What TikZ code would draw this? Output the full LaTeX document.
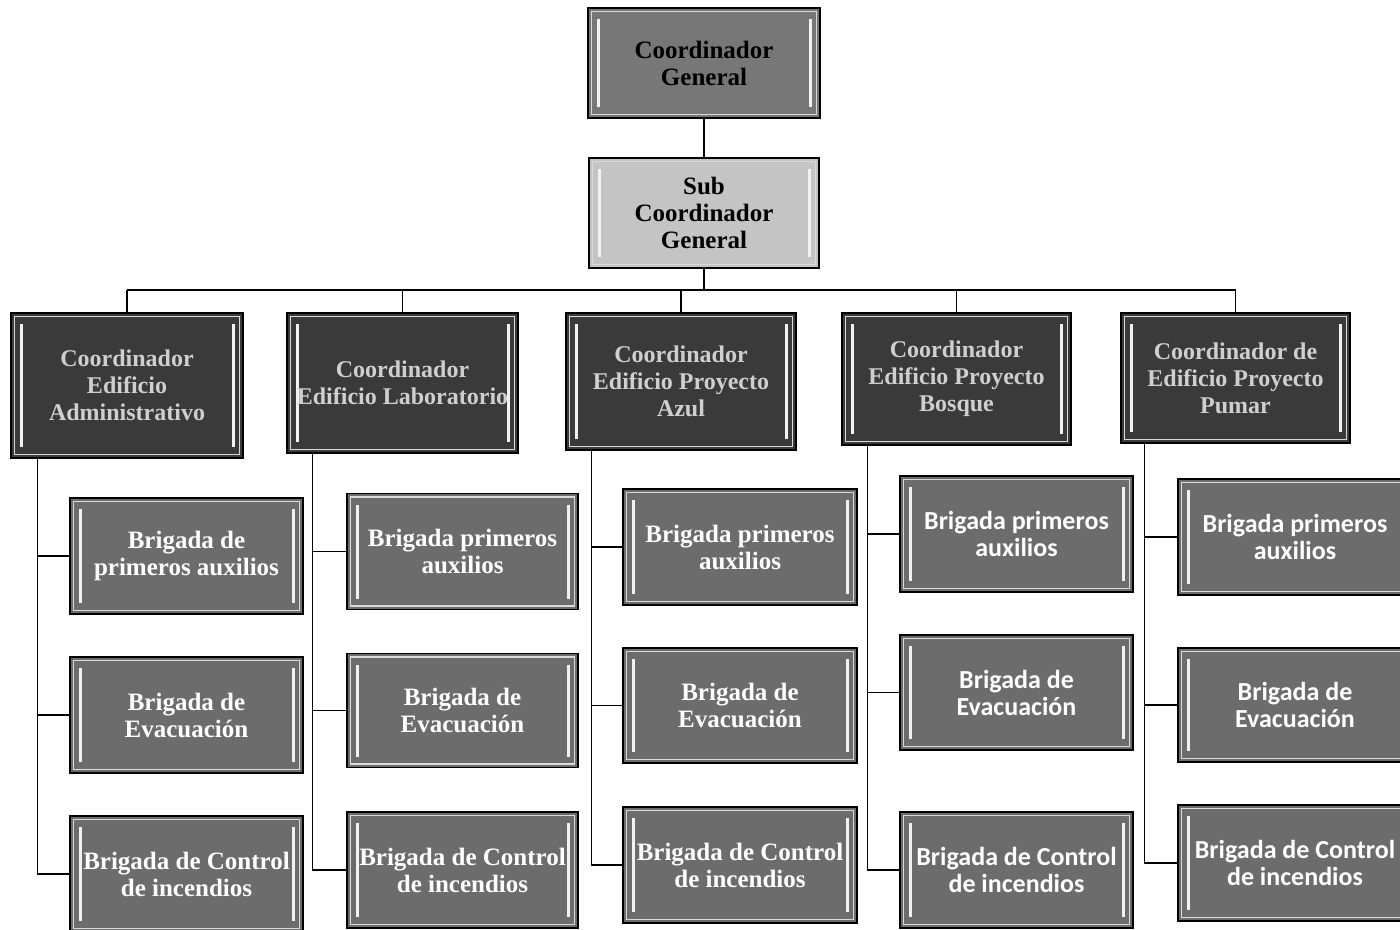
\documentclass[tikz,border=0pt]{standalone}
\usepackage{fontspec}
\setmainfont{Liberation Serif}
\newfontfamily\cfont{Carlito}
\definecolor{topfill}{HTML}{777777}
\definecolor{subfill}{HTML}{C4C4C4}
\definecolor{coordfill}{HTML}{3A3A3A}
\definecolor{coordtext}{HTML}{CFCFCF}
\definecolor{brigfill}{HTML}{6C6C6C}
\definecolor{rimcol}{HTML}{DADADA}
\definecolor{bevelcol}{HTML}{F2F2F2}
\begin{document}
\begin{tikzpicture}[x=1pt,y=-1pt,
  conn/.style={draw=black,line width=1.4pt},
  boxbase/.style={rectangle, draw=black, line width=1.3pt, inner sep=2pt, align=center,
    path picture={
      \draw[rimcol,line width=1.6pt] ([shift={(3.5pt,-3.5pt)}]path picture bounding box.north west) rectangle ([shift={(-3.5pt,3.5pt)}]path picture bounding box.south east);
      \draw[bevelcol,line width=3pt] ([shift={(10pt,-11pt)}]path picture bounding box.north west) -- ([shift={(10pt,11pt)}]path picture bounding box.south west);
      \draw[bevelcol,line width=3pt] ([shift={(-10pt,-11pt)}]path picture bounding box.north east) -- ([shift={(-10pt,11pt)}]path picture bounding box.south east);
    }},
  topbox/.style={boxbase, fill=topfill, text=black, font=\fontsize{25}{27}\selectfont\bfseries},
  subbox/.style={boxbase, fill=subfill, text=black, font=\fontsize{25}{27}\selectfont\bfseries},
  coordbox/.style={boxbase, fill=coordfill, text=coordtext, font=\fontsize{24}{27}\selectfont\bfseries},
  brigbox/.style={boxbase, fill=brigfill, text=white, font=\fontsize{25}{27}\selectfont\bfseries},
  brigsans/.style={boxbase, fill=brigfill, text=white, font=\cfont\fontsize{26}{27}\selectfont\bfseries}
]
\useasboundingbox (0,0) rectangle (1400,929);

% top
\node[topbox, minimum width=232pt, minimum height=110pt] (cg) at (704,63) {Coordinador\\General};
\node[subbox, minimum width=230pt, minimum height=110pt] (sc) at (704,213) {Sub\\Coordinador\\General};

% coordinators
\node[coordbox, minimum width=232pt, minimum height=145pt] (c1) at (127,385.5) {Coordinador\\Edificio\\Administrativo};
\node[coordbox, minimum width=231pt, minimum height=140pt] (c2) at (402.5,383) {Coordinador\\Edificio Laboratorio};
\node[coordbox, minimum width=230pt, minimum height=137pt] (c3) at (681,381.5) {Coordinador\\Edificio Proyecto\\Azul};
\node[coordbox, minimum width=229pt, minimum height=132pt] (c4) at (956.5,379) {Coordinador\\Edificio Proyecto\\Bosque};
\node[coordbox, minimum width=229pt, minimum height=130pt] (c5) at (1235.5,378) {Coordinador de\\Edificio Proyecto\\Pumar};

% brigades column 1
\node[brigbox, minimum width=233pt, minimum height=116pt] (b11) at (186.5,556) {Brigada de\\primeros auxilios};
\node[brigbox, minimum width=233pt, minimum height=116pt] (b12) at (186.5,715) {Brigada de\\Evacuación};
\node[brigbox, minimum width=233pt, minimum height=116pt] (b13) at (186.5,874) {Brigada de Control\\de incendios};
% column 2
\node[brigbox, minimum width=231pt, minimum height=116pt] (b21) at (462.5,551.5) {Brigada primeros\\auxilios};
\node[brigbox, minimum width=231pt, minimum height=114pt] (b22) at (462.5,710.5) {Brigada de\\Evacuación};
\node[brigbox, minimum width=231pt, minimum height=116pt] (b23) at (462.5,870) {Brigada de Control\\de incendios};
% column 3
\node[brigbox, minimum width=234pt, minimum height=116pt] (b31) at (740,547) {Brigada primeros\\auxilios};
\node[brigbox, minimum width=234pt, minimum height=115pt] (b32) at (740,705.5) {Brigada de\\Evacuación};
\node[brigbox, minimum width=234pt, minimum height=116pt] (b33) at (740,865) {Brigada de Control\\de incendios};
% column 4
\node[brigsans, minimum width=233pt, minimum height=116pt] (b41) at (1016.5,534) {Brigada primeros\\auxilios};
\node[brigsans, minimum width=233pt, minimum height=115pt] (b42) at (1016.5,692.5) {Brigada de\\Evacuación};
\node[brigsans, minimum width=233pt, minimum height=116pt] (b43) at (1016.5,870) {Brigada de Control\\de incendios};
% column 5
\node[brigsans, minimum width=234pt, minimum height=116pt] (b51) at (1295,537) {Brigada primeros\\auxilios};
\node[brigsans, minimum width=234pt, minimum height=114pt] (b52) at (1295,705) {Brigada de\\Evacuación};
\node[brigsans, minimum width=234pt, minimum height=116pt] (b53) at (1295,863) {Brigada de Control\\de incendios};

% connectors top
\coordinate (bus) at (704,290);
\draw[conn] (cg.south) -- (sc.north);
\draw[conn] (sc.south) -- (sc.south |- bus);
\draw[conn] (c1.north |- bus) -- (c5.north |- bus);
\foreach \c in {c1,c2,c3,c4,c5} {\draw[conn] (\c.north |- bus) -- (\c.north);}

% spines
\coordinate (s1) at ([xshift=27pt]c1.south west);
\coordinate (s2) at ([xshift=26pt]c2.south west);
\coordinate (s3) at ([xshift=26pt]c3.south west);
\coordinate (s4) at ([xshift=26pt]c4.south west);
\coordinate (s5) at ([xshift=24pt]c5.south west);
\foreach \i in {1,...,5} {
  \draw[conn] (s\i) |- (b\i3.west);
  \draw[conn] (s\i |- b\i1.west) -- (b\i1.west);
  \draw[conn] (s\i |- b\i2.west) -- (b\i2.west);
}
\end{tikzpicture}
\end{document}
